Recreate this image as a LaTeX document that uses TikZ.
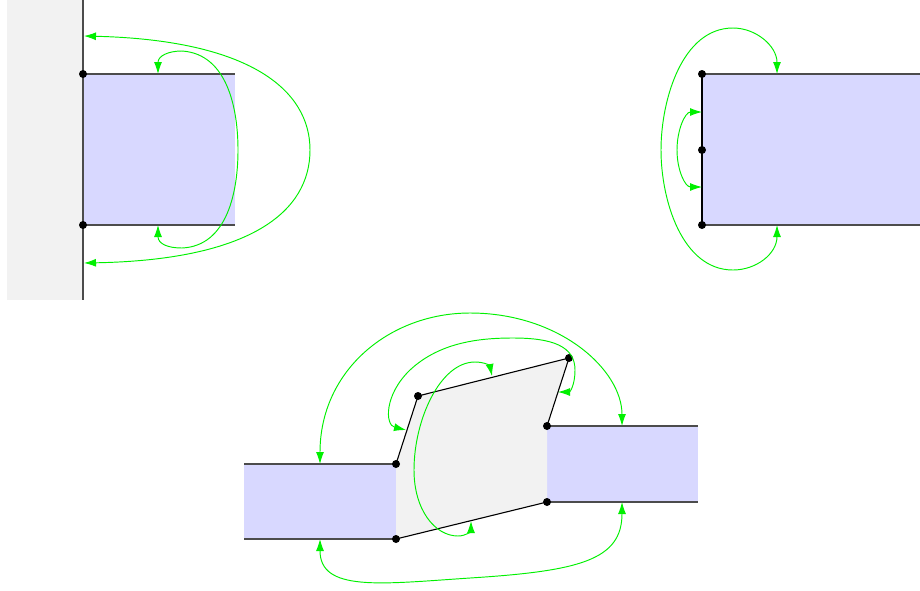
\documentclass[tikz,border=0pt]{standalone}
\usetikzlibrary{arrows.meta}
\definecolor{bluefill}{RGB}{216,216,255}
\definecolor{grayfill}{RGB}{242,242,242}
\definecolor{arcgreen}{RGB}{0,240,0}
\tikzset{
  edgeline/.style={draw=black!70, line width=1.2pt},
  slantline/.style={draw=black, line width=1.1pt},
  dotpt/.style={circle, fill=black, inner sep=0pt, minimum size=8pt},
  arc/.style={draw=arcgreen, line width=0.95pt, {Latex[length=12pt,width=8pt]}-{Latex[length=12pt,width=8pt]}},
}
\begin{document}
\begin{tikzpicture}[x=1pt,y=-1pt]
\useasboundingbox (0,0) rectangle (920,590);
% ---------- figure 1 ----------
\fill[grayfill] (7,0) rectangle (83,300);
\fill[bluefill] (83,74) rectangle (235,225);
\coordinate (wt) at (83,0);
\coordinate (wb) at (83,300);
\coordinate (a1r) at (235,74);
\coordinate (a2r) at (235,225);
\draw[edgeline] (wt) -- (wb);
\draw[edgeline] (83,74) -- (a1r);
\draw[edgeline] (83,225) -- (a2r);
\node[dotpt] (a1) at (83,74) {};
\node[dotpt] (a2) at (83,225) {};
\coordinate (p1) at (158,74);
\coordinate (p2) at (158,225);
\coordinate (q1) at (84,36);
\coordinate (q2) at (84,263);
\draw[arc] (p1) .. controls (158,56) and (168,51) .. (182,51)
  .. controls (228,54) and (238,110) .. (238,150)
  .. controls (238,190) and (228,246) .. (182,248)
  .. controls (168,248) and (158,244) .. (p2);
\draw[arc] (q1) .. controls (250,40) and (310,90) .. (310,150)
  .. controls (310,212) and (250,260) .. (q2);
% ---------- figure 2 ----------
\fill[bluefill] (702,74) rectangle (920,225);
\coordinate (b1r) at (920,74);
\coordinate (b3r) at (920,225);
\draw[edgeline] (702,74) -- (b1r);
\draw[edgeline] (702,225) -- (b3r);
\draw[slantline] (702,74) -- (702,225);
\node[dotpt] (b1) at (702,74) {};
\node[dotpt] (b2) at (702,150) {};
\node[dotpt] (b3) at (702,225) {};
\coordinate (r1) at (777,74);
\coordinate (r2) at (777,225);
\coordinate (s1) at (702,112);
\coordinate (s2) at (702,187);
\draw[arc] (r1) .. controls (777,46) and (756,28) .. (733,28)
  .. controls (682,28) and (661,100) .. (661,150)
  .. controls (661,200) and (682,270) .. (733,270)
  .. controls (756,270) and (777,254) .. (r2);
\draw[arc] (s1) .. controls (685,112) and (677,130) .. (677,150)
  .. controls (677,170) and (685,187) .. (s2);
% ---------- figure 3 ----------
\fill[bluefill] (244,464) rectangle (396,539);
\fill[bluefill] (547,426) rectangle (698,502);
\fill[grayfill] (396,464) -- (418,396) -- (569,358) -- (547,426) -- (547,502) -- (396,539) -- cycle;
\coordinate (l1) at (244,464);
\coordinate (l2) at (244,539);
\coordinate (m1) at (698,426);
\coordinate (m2) at (698,502);
\draw[edgeline] (l1) -- (396,464);
\draw[edgeline] (l2) -- (396,539);
\draw[edgeline] (547,426) -- (m1);
\draw[edgeline] (547,502) -- (m2);
\node[dotpt] (c1) at (396,464) {};
\node[dotpt] (c2) at (418,396) {};
\node[dotpt] (c3) at (569,358) {};
\node[dotpt] (c4) at (547,426) {};
\node[dotpt] (c5) at (547,502) {};
\node[dotpt] (c6) at (396,539) {};
\draw[slantline] (c1.center) -- (c2.center) -- (c3.center) -- (c4.center);
\draw[slantline] (c6.center) -- (c5.center);
\coordinate (t1) at (320,464);
\coordinate (t2) at (622,426);
\coordinate (u1) at (320,539);
\coordinate (u2) at (622,502);
\coordinate (v1) at (406,430);
\coordinate (v2) at (558,392);
\coordinate (w1) at (492,376);
\coordinate (w2) at (471,521);
\draw[arc] (t1) .. controls (320,370) and (390,313) .. (470,313)
  .. controls (560,313) and (622,370) .. (t2);
\draw[arc] (u1) .. controls (320,592) and (380,584) .. (470,578)
  .. controls (580,571) and (622,560) .. (u2);
\draw[arc] (v1) .. controls (385,425) and (384,395) .. (410,370)
  .. controls (440,342) and (480,338) .. (513,338)
  .. controls (552,338) and (575,346) .. (575,370)
  .. controls (575,385) and (570,392) .. (v2);
\draw[arc] (w1) .. controls (490,366) and (485,362) .. (475,362)
  .. controls (440,362) and (414,420) .. (414,470)
  .. controls (414,510) and (435,536) .. (458,536)
  .. controls (466,536) and (471,531) .. (w2);
\end{tikzpicture}
\end{document}
